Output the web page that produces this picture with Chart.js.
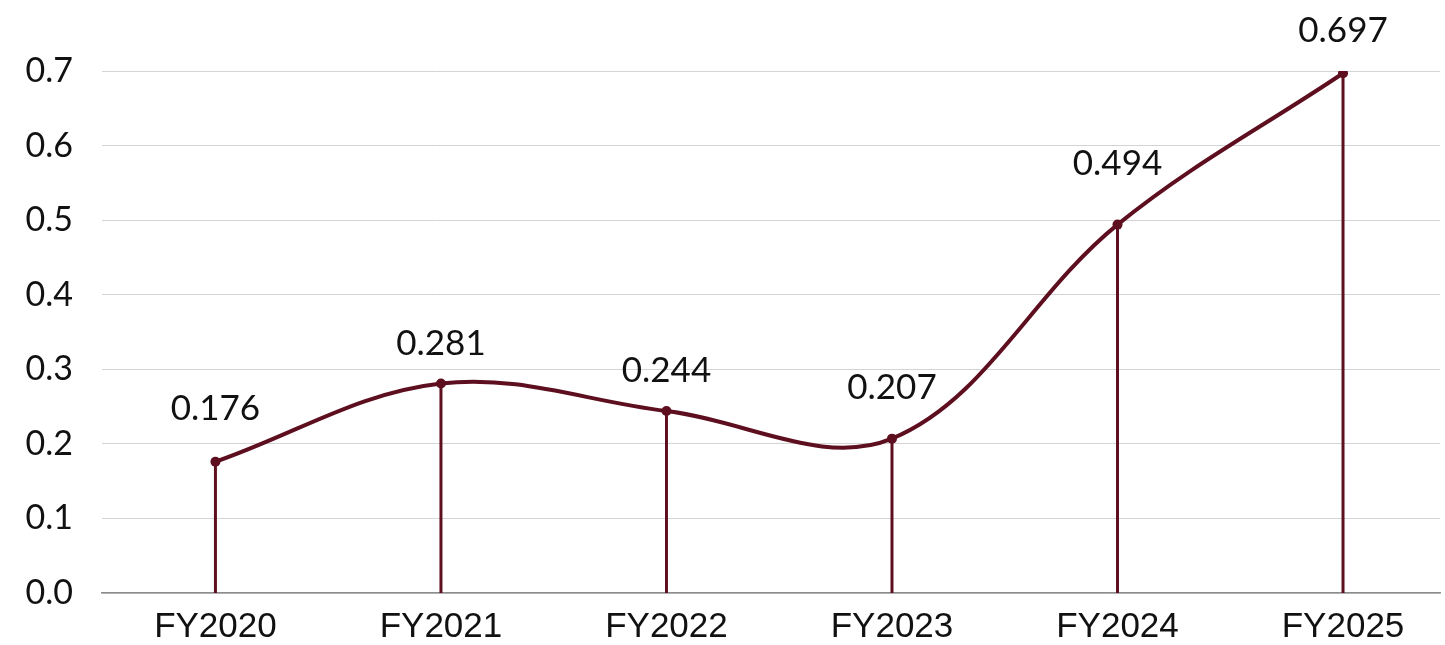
<!DOCTYPE html>
<html>
<head>
<meta charset="utf-8">
<script src="https://cdn.jsdelivr.net/npm/chart.js@4"></script>
<style>
  html, body { margin: 0; padding: 0; background: #fff; }
  #wrap { width: 1445px; height: 645px; }
</style>
</head>
<body>
<div id="wrap"><canvas id="chart" width="1445" height="645"></canvas></div>
<script>
const YEARS = ['FY2020', 'FY2021', 'FY2022', 'FY2023', 'FY2024', 'FY2025'];
const VALUES = [0.176, 0.281, 0.244, 0.207, 0.494, 0.697];
const Y_TICKS = [0, 0.1, 0.2, 0.3, 0.4, 0.5, 0.6, 0.7];

const LINE_COLOR = '#5e0f1f';
// how far above each point its value label sits
const LABEL_LIFT = [53, 40, 40, 51, 61, 43];

// vertical stems from each point down to the baseline
const dropLines = {
  id: 'dropLines',
  beforeDatasetsDraw(chart) {
    const { ctx } = chart;
    const base = chart.scales.y.getPixelForValue(0);
    const meta = chart.getDatasetMeta(0);
    ctx.save();
    ctx.strokeStyle = LINE_COLOR;
    ctx.lineWidth = 3;
    meta.data.forEach((pt) => {
      ctx.beginPath();
      ctx.moveTo(pt.x, pt.y);
      ctx.lineTo(pt.x, base);
      ctx.stroke();
    });
    ctx.restore();
  },
};

const valueLabels = {
  id: 'valueLabels',
  afterDatasetsDraw(chart) {
    const { ctx } = chart;
    const meta = chart.getDatasetMeta(0);
    ctx.save();
    ctx.font = '35px Lato, sans-serif';
    ctx.fillStyle = '#111';
    ctx.textAlign = 'center';
    ctx.textBaseline = 'middle';
    meta.data.forEach((pt, i) => {
      ctx.fillText(VALUES[i].toFixed(3), pt.x, pt.y - LABEL_LIFT[i]);
    });
    ctx.restore();
  },
};

new Chart(document.getElementById('chart').getContext('2d'), {
  type: 'line',
  data: {
    datasets: [
      {
        data: VALUES.map((v, i) => ({ x: i, y: v })),
        borderColor: LINE_COLOR,
        backgroundColor: LINE_COLOR,
        borderWidth: 4,
        tension: 0.36,
        pointRadius: 5,
        pointBorderWidth: 0,
        pointBackgroundColor: LINE_COLOR,
        fill: false,
      },
    ],
  },
  options: {
    responsive: false,
    animation: false,
    layout: { padding: { top: 71, right: 0, bottom: 0, left: 0 } },
    plugins: { legend: { display: false }, tooltip: { enabled: false } },
    scales: {
      x: {
        type: 'linear',
        min: -0.503,
        max: 5.43,
        afterBuildTicks(scale) {
          scale.ticks = YEARS.map((_, i) => ({ value: i }));
        },
        afterFit(scale) {
          scale.height = 52;
        },
        grid: { display: false, drawTicks: false },
        border: { display: true, color: '#8c8c8c', width: 1.5 },
        ticks: {
          padding: 13,
          color: '#111',
          font: { family: '"Liberation Sans", Arial, sans-serif', size: 35 },
          callback: (v) => YEARS[v] ?? '',
          maxRotation: 0,
          autoSkip: false,
        },
      },
      y: {
        min: 0,
        max: 0.7,
        afterBuildTicks(scale) {
          scale.ticks = Y_TICKS.map((v) => ({ value: v }));
        },
        afterFit(scale) {
          scale.width = 102;
        },
        grid: { color: '#d4d4d4', lineWidth: 1, drawTicks: false },
        border: { display: false },
        ticks: {
          padding: 29,
          color: '#111',
          font: { family: 'Lato, sans-serif', size: 34 },
          callback: (v) => Number(v).toFixed(1),
        },
      },
    },
  },
  plugins: [dropLines, valueLabels],
});
</script>
</body>
</html>
